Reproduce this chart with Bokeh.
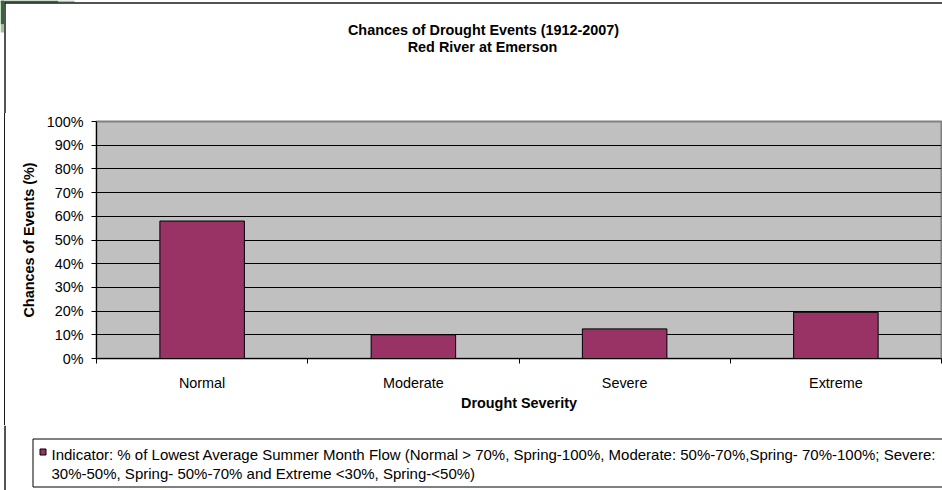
from bokeh.plotting import figure
from bokeh.layouts import column, row
from bokeh.models import Range1d, FixedTicker, Spacer
from bokeh.core.properties import value
from bokeh.embed import file_html
from bokeh.resources import INLINE

categories = ["Normal", "Moderate", "Severe", "Extreme"]
chances = [0.58, 0.10, 0.125, 0.195]
y_ticks = [0.0, 0.1, 0.2, 0.3, 0.4, 0.5, 0.6, 0.7, 0.8, 0.9, 1.0]
y_tick_labels = ["0%", "10%", "20%", "30%", "40%", "50%", "60%", "70%", "80%", "90%", "100%"]
title_lines = ["Chances of Drought Events (1912-2007)", "Red River at Emerson"]
x_title = "Drought Severity"
y_title = "Chances of Events (%)"
legend_lines = [
    "Indicator: % of Lowest Average Summer Month Flow (Normal > 70%, Spring-100%, Moderate: 50%-70%,Spring- 70%-100%; Severe:",
    "30%-50%, Spring- 50%-70% and Extreme <30%, Spring-<50%)",
]

FONT = "Liberation Sans"
BAR = "#993366"
BORDER = "#1a1a1a"
W, H = 942, 490
TOP_H, MID_H = 113, 312
BOT_H = H - TOP_H - MID_H
FS = "14.4px"


def blank(width, height):
    f = figure(width=width, height=height, output_backend="svg", toolbar_location=None,
               x_range=Range1d(0, width), y_range=Range1d(height, 0),
               min_border=0, min_border_left=0, min_border_right=0,
               min_border_top=0, min_border_bottom=0)
    f.axis.visible = False
    f.grid.visible = False
    f.outline_line_color = None
    f.background_fill_color = "white"
    f.border_fill_color = "white"
    return f


# ---- title area ----
top = blank(W, TOP_H)
top.quad(left=[0, 58, 0, 0], right=[58, 74, 3.5, 3.5], top=[0, 0, 0, 24], bottom=[2, 2, 24, 32],
         fill_color=["#2c6e31", "#9cc29a", "#2c6e31", "#9cc29a"], line_color=None)
top.segment(x0=[4, 4.5], y0=[2.5, 2], x1=[W, 4.5], y1=[2.5, TOP_H], line_color=BORDER, line_width=1.5)
top.text(x=[483, 482], y=[29, 46.5], text=title_lines, text_font=value(FONT),
         text_font_size=value(FS), text_font_style="bold", text_align="center",
         text_baseline="middle", text_color="black")

# ---- main chart ----
positions = [i + 0.5 for i in range(len(categories))]
boundaries = list(range(len(categories) + 1))

GAP_W, LINE_W = 4, 1
p = figure(width=W - GAP_W - LINE_W, height=MID_H, output_backend="svg", toolbar_location=None,
           x_range=Range1d(0, len(categories)), y_range=Range1d(0, 1),
           min_border_left=96 - GAP_W - LINE_W, min_border_right=1, min_border_top=8,
           min_border_bottom=67)
p.background_fill_color = "#C0C0C0"
p.border_fill_color = "white"
p.outline_line_color = "#808080"
p.outline_line_width = 2

p.vbar(x=positions, top=chances, bottom=0, width=0.4, fill_color=BAR, line_color="black", line_width=1)

xt = FixedTicker(ticks=positions, minor_ticks=boundaries)
p.xaxis.ticker = xt
p.xaxis.major_label_overrides = {pos: name for pos, name in zip(positions, categories)}
p.xaxis.major_tick_line_color = None
p.xaxis.major_tick_out = 5
p.xaxis.major_tick_in = 0
p.xaxis.minor_tick_line_color = "black"
p.xaxis.minor_tick_out = 5
p.xaxis.minor_tick_in = 0
p.xaxis.major_label_standoff = 11
p.xaxis.axis_label = x_title
p.xaxis.axis_label_standoff = 1
p.xgrid.visible = False

yt = FixedTicker(ticks=y_ticks, minor_ticks=[])
p.yaxis.ticker = yt
p.yaxis.major_label_overrides = {t: s for t, s in zip(y_ticks, y_tick_labels)}
p.yaxis.major_tick_out = 5
p.yaxis.major_tick_in = 0
p.yaxis.minor_tick_line_color = None
p.yaxis.major_label_standoff = 8
p.yaxis.axis_label = y_title
p.yaxis.axis_label_standoff = 7
p.ygrid.ticker = yt
p.ygrid.grid_line_color = "black"
p.ygrid.grid_line_width = 1.2

for ax in (p.xaxis[0], p.yaxis[0]):
    ax.axis_line_color = "black"
    ax.major_label_text_font = FONT
    ax.major_label_text_font_size = FS
    ax.major_label_text_color = "black"
    ax.axis_label_text_font = FONT
    ax.axis_label_text_font_size = FS
    ax.axis_label_text_font_style = "bold"
    ax.axis_label_text_color = "black"

left_gap = Spacer(width=GAP_W, height=MID_H)
left_line = Spacer(width=LINE_W, height=MID_H, styles={"background-color": BORDER})

# ---- legend area ----
leg = blank(W, BOT_H)
leg.segment(x0=[4.5], y0=[0], x1=[4.5], y1=[BOT_H], line_color=BORDER, line_width=1.5)
leg.quad(left=[32.5], right=[W + 20], top=[13.5], bottom=[61.5], fill_color="white",
         line_color="black", line_width=1)
leg.quad(left=[39.5], right=[45.5], top=[23.5], bottom=[29.5], fill_color=BAR,
         line_color="black", line_width=1)
leg.text(x=[51, 51], y=[28.5, 47.5], text=legend_lines, text_font=value(FONT),
         text_font_size=value("15px"), text_align="left", text_baseline="middle",
         text_color="black")

layout = column(top, row(left_gap, left_line, p, spacing=0), leg, spacing=0)
open("out.html", "w").write(file_html(layout, INLINE))
